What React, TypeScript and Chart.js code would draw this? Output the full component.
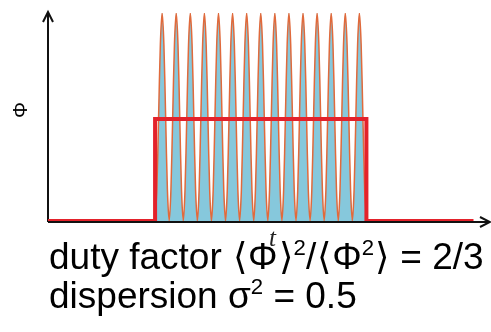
import React, { useEffect, useRef } from "react";
import { Chart, registerables } from "chart.js";

Chart.register(...registerables);

// One period of the flux oscillation (relative to peak)
const periodShape = [0, 0.15, 0.5, 0.85, 1, 0.85, 0.5, 0.15];
const pulseCount = 15; // number of oscillation periods in the pulse
// Red envelope (mean flux) corner points: [time in periods, flux]
const envelopeT = [-7.6, 0, 0, 15, 15, 22.6];
const envelopeY = [0, 0, 0.49, 0.49, 0, 0];
const xMin = -7.6;
const xMax = 23.7;

const axisXLabel = "t";
const axisYLabel = "\u03A6";

function buildWave() {
  const pts: { x: number; y: number }[] = [];
  for (let p = 0; p < pulseCount; p++) {
    periodShape.forEach((v, i) => {
      pts.push({ x: p + i / periodShape.length, y: v });
    });
  }
  pts.push({ x: pulseCount, y: 0 });
  return pts;
}

const axesPlugin = {
  id: "axesArrows",
  beforeDatasetsDraw(chart: any) {
    const { ctx, chartArea } = chart;
    const x0 = chartArea.left;
    const yb = chartArea.bottom + 1;
    ctx.save();
    ctx.strokeStyle = "#111";
    ctx.fillStyle = "#111";
    ctx.lineWidth = 2;
    ctx.beginPath();
    ctx.moveTo(x0, yb);
    ctx.lineTo(x0, chartArea.top);
    ctx.stroke();
    ctx.beginPath();
    ctx.moveTo(x0 - 5, chartArea.top + 9);
    ctx.lineTo(x0, chartArea.top - 1);
    ctx.lineTo(x0 + 5, chartArea.top + 9);
    ctx.stroke();
    ctx.beginPath();
    ctx.moveTo(x0, yb);
    ctx.lineTo(chartArea.right, yb);
    ctx.stroke();
    ctx.beginPath();
    ctx.moveTo(chartArea.right - 9, yb - 5);
    ctx.lineTo(chartArea.right + 1, yb);
    ctx.lineTo(chartArea.right - 9, yb + 5);
    ctx.stroke();
    ctx.restore();
  },
};

const sup: React.CSSProperties = { fontSize: "0.6em", verticalAlign: "0.62em" };
const br: React.CSSProperties = { margin: "0 1px" };

export default function App() {
  const ref = useRef<HTMLCanvasElement | null>(null);
  useEffect(() => {
    if (!ref.current) return;
    const envelope = envelopeT.map((t, i) => ({ x: t, y: envelopeY[i] }));
    const chart = new Chart(ref.current, {
      type: "line",
      data: {
        datasets: [
          {
            data: envelope,
            borderColor: "#e3222b",
            borderWidth: 4,
            pointRadius: 0,
            fill: false,
            tension: 0,
            borderJoinStyle: "miter",
            order: 0,
          },
          {
            data: buildWave(),
            borderColor: "#e06a3c",
            borderWidth: 1.5,
            backgroundColor: "#86c8dc",
            pointRadius: 0,
            fill: "origin",
            tension: 0.3,
            order: 1,
          },
        ],
      },
      options: {
        animation: false,
        responsive: false,
        layout: { padding: { left: 48, right: 2, top: 13, bottom: 111 } },
        plugins: { legend: { display: false }, tooltip: { enabled: false } },
        scales: {
          x: { type: "linear", display: false, min: xMin, max: xMax },
          y: { display: false, min: 0, max: 1 },
        },
      },
      plugins: [axesPlugin],
    });
    return () => chart.destroy();
  }, []);

  const font = "'Liberation Sans', Arial, sans-serif";
  const textStyle: React.CSSProperties = {
    position: "absolute",
    left: 49,
    fontFamily: font,
    fontSize: 37,
    lineHeight: 1,
    whiteSpace: "nowrap",
    color: "#000",
  };
  return (
    <div style={{ position: "fixed", left: 0, top: 0, width: 491, height: 332, background: "#fff" }}>
      <canvas ref={ref} width={491} height={332} style={{ position: "absolute", left: 0, top: 0 }} />
      <div
        style={{
          position: "absolute",
          left: 20,
          top: 110,
          fontFamily: font,
          fontSize: 20,
          transform: "translate(-50%, -50%) rotate(-90deg)",
          lineHeight: 1,
        }}
      >
        {axisYLabel}
      </div>
      <div style={{ ...textStyle, top: 237 }}>
        duty factor <span style={br}>{"\u27E8"}</span>
        {"\u03A6"}
        <span style={br}>{"\u27E9"}</span>
        <span style={sup}>2</span>/<span style={br}>{"\u27E8"}</span>
        {"\u03A6"}
        <span style={sup}>2</span>
        <span style={br}>{"\u27E9"}</span> = 2/3
      </div>
      <div style={{ ...textStyle, top: 276 }}>
        dispersion {"\u03C3"}
        <span style={sup}>2</span> = 0.5
      </div>
      <div
        style={{
          position: "absolute",
          left: 269,
          top: 225,
          fontFamily: "'Liberation Serif', 'Times New Roman', serif",
          fontStyle: "italic",
          fontSize: 25,
          lineHeight: 1,
          color: "#222",
        }}
      >
        {axisXLabel}
      </div>
    </div>
  );
}
